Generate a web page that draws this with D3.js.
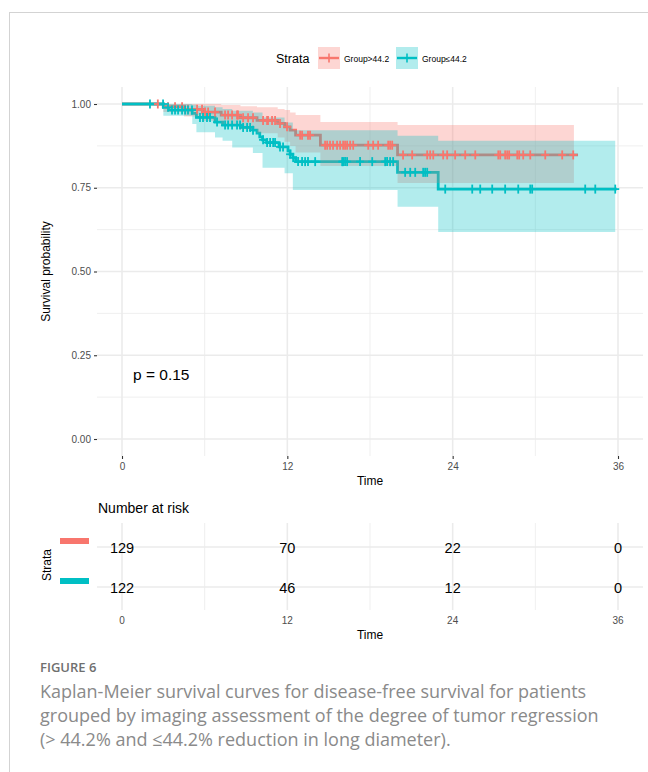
<!DOCTYPE html>
<html>
<head>
<meta charset="utf-8">
<script src="https://cdn.jsdelivr.net/npm/d3@7"></script>
<style>
  body { margin: 0; background: #fff; }
  svg { display: block; }
  .ax { font-family: "Liberation Sans", Arial, sans-serif; }
</style>
</head>
<body>
<div id="chart"></div>
<script>
// strata
var strata = ["Group>44.2", "Group\u226444.2"];
var colors = ["#F8766D", "#00BFC4"];

// survival steps, group > 44.2
var hiTime = [0, 3.0, 4.5, 5.9, 7.2, 8.6, 9.8, 11.3, 11.8, 12.2, 12.6, 14.4, 20.0, 33.1];
var hiSurv = [1, 0.992, 0.984, 0.976, 0.967, 0.959, 0.951, 0.942, 0.932, 0.922, 0.907, 0.877, 0.848, 0.848];
// confidence band, group > 44.2
var hiCiTime = [0, 3.0, 4.5, 5.9, 7.2, 8.6, 9.8, 11.3, 11.8, 12.2, 12.6, 14.4, 20.0, 32.8];
var hiLower = [1, 0.976, 0.963, 0.95, 0.937, 0.925, 0.913, 0.9, 0.887, 0.875, 0.855, 0.815, 0.764, 0.764];
var hiUpper = [1, 1, 1, 1, 0.997, 0.993, 0.99, 0.985, 0.982, 0.975, 0.967, 0.946, 0.937, 0.937];
var hiCensor = [2.6, 3.34, 3.85, 4.36, 4.58, 4.79, 5.45, 5.81, 6.03, 6.25, 6.75, 7.48, 7.7, 7.99, 8.35, 8.42,
  8.79, 9.15, 9.51, 10.24, 10.53, 10.6, 10.89, 11.11, 11.47, 11.98, 12.93, 13.07, 13.5, 13.65, 14.74, 14.89,
  15.1, 15.32, 15.61, 15.83, 16.05, 16.19, 16.34, 16.56, 16.78, 17.87, 18.23, 18.59, 19.32, 19.46, 19.61,
  20.4, 21.06, 22.15, 22.37, 22.59, 23.31, 23.6, 24.18, 24.91, 25.64, 27.31, 27.45, 27.81, 27.96, 28.1,
  28.69, 28.83, 29.12, 29.63, 30.72, 31.95, 32.75];

// survival steps, group <= 44.2
var loTime = [0, 3.0, 3.4, 5.1, 5.4, 6.75, 7.3, 8.6, 9.5, 9.8, 10.0, 10.2, 10.5, 11.4, 12.05, 12.2, 12.4, 12.6, 20.0, 22.95, 35.9];
var loSurv = [1, 0.99, 0.982, 0.972, 0.96, 0.946, 0.937, 0.93, 0.922, 0.913, 0.902, 0.893, 0.885, 0.872, 0.86, 0.85, 0.84, 0.828, 0.796, 0.746, 0.746];
var loCiTime = [0, 3.0, 5.1, 5.4, 6.75, 7.3, 8.0, 9.5, 10.2, 11.8, 12.4, 20.0, 22.95, 35.8];
var loLower = [1, 0.965, 0.94, 0.916, 0.9, 0.89, 0.87, 0.854, 0.81, 0.793, 0.743, 0.693, 0.618, 0.618];
var loUpper = [1, 1, 0.998, 0.995, 0.99, 0.985, 0.98, 0.975, 0.96, 0.945, 0.922, 0.905, 0.89, 0.89];
var loCensor = [2.03, 2.98, 3.34, 3.63, 3.85, 4.07, 4.36, 4.58, 4.79, 5.08, 5.66, 5.88, 6.17, 6.39, 6.9, 7.48,
  7.7, 7.99, 8.35, 8.57, 8.79, 9.08, 9.3, 9.51, 10.24, 10.53, 10.75, 10.97, 11.11, 11.47, 11.69, 12.2, 12.42,
  12.78, 13.07, 13.29, 13.5, 14.02, 15.98, 16.05, 16.19, 16.34, 17.28, 18.16, 19.1, 19.24, 19.46, 19.68,
  20.55, 20.92, 21.28, 21.86, 22.0, 22.15, 23.46, 25.42, 26.0, 26.87, 27.81, 28.76, 29.63, 29.77, 33.62,
  34.35, 35.8];

// number at risk
var riskTimes = [0, 12, 24, 36];
var riskHi = [129, 70, 22, 0];
var riskLo = [122, 46, 12, 0];

var xTicks = [0, 12, 24, 36];
var xMinor = [6, 18, 30];
var yTicks = [0, 0.25, 0.5, 0.75, 1];
var yMinor = [0.125, 0.375, 0.625, 0.875];
var pValue = "p = 0.15";

var caption = [
  "Kaplan-Meier survival curves for disease-free survival for patients",
  "grouped by imaging assessment of the degree of tumor regression",
  "(> 44.2% and \u226444.2% reduction in long diameter)."
];

var W = 648, H = 772;
var svg = d3.select("#chart").append("svg").attr("width", W).attr("height", H);

// figure frame
svg.append("rect").attr("x", 9.5).attr("y", 12.5).attr("width", 700).attr("height", 800)
  .attr("fill", "none").attr("stroke", "#d3d3d3").attr("stroke-width", 1);

var x = d3.scaleLinear().domain([0, 36]).range([122, 618]);
var y = d3.scaleLinear().domain([0, 1]).range([439, 104]);
var pLeft = 97, pRight = 643, pTop = 87, pBottom = 456;

var g = svg.append("g").attr("class", "ax");

// grid
g.selectAll(".vmin").data(xMinor).enter().append("line")
  .attr("x1", d => x(d)).attr("x2", d => x(d)).attr("y1", pTop).attr("y2", pBottom)
  .attr("stroke", "#ebebeb").attr("stroke-width", 0.8);
g.selectAll(".hmin").data(yMinor).enter().append("line")
  .attr("x1", pLeft).attr("x2", pRight).attr("y1", d => y(d)).attr("y2", d => y(d))
  .attr("stroke", "#ebebeb").attr("stroke-width", 0.8);
g.selectAll(".vmaj").data(xTicks).enter().append("line")
  .attr("x1", d => x(d)).attr("x2", d => x(d)).attr("y1", pTop).attr("y2", pBottom)
  .attr("stroke", "#ebebeb").attr("stroke-width", 1.6);
g.selectAll(".hmaj").data(yTicks).enter().append("line")
  .attr("x1", pLeft).attr("x2", pRight).attr("y1", d => y(d)).attr("y2", d => y(d))
  .attr("stroke", "#ebebeb").attr("stroke-width", 1.6);

// axes
var yAxis = d3.axisLeft(y).tickValues(yTicks).tickFormat(d3.format(".2f")).tickSize(3).tickPadding(3);
var ya = g.append("g").attr("transform", "translate(" + pLeft + ",0)").call(yAxis);
ya.select(".domain").remove();
ya.selectAll("line").attr("stroke", "#333").attr("stroke-width", 1.1);
ya.selectAll("text").attr("fill", "#4d4d4d").style("font-size", "10px");

var xAxis = d3.axisBottom(x).tickValues(xTicks).tickSize(3).tickPadding(4);
var xa = g.append("g").attr("transform", "translate(0," + pBottom + ")").call(xAxis);
xa.select(".domain").remove();
xa.selectAll("line").attr("stroke", "#333").attr("stroke-width", 1.1);
xa.selectAll("text").attr("fill", "#4d4d4d").style("font-size", "10px");

g.append("text").attr("x", (pLeft + pRight) / 2).attr("y", 485).attr("text-anchor", "middle")
  .style("font-size", "12px").text("Time");
g.append("text").attr("transform", "translate(50," + ((pTop + pBottom) / 2) + ") rotate(-90)")
  .attr("text-anchor", "middle").style("font-size", "12px").text("Survival probability");

// curves
function stepLine(times, vals) {
  return d3.line().curve(d3.curveStepAfter).x((d, i) => x(times[i])).y(d => y(d))(vals);
}
function band(times, lo, up) {
  return d3.area().curve(d3.curveStepAfter).x((d, i) => x(times[i]))
    .y0((d, i) => y(lo[i])).y1((d, i) => y(up[i]))(times);
}
function survAt(times, vals, t) {
  var i = d3.bisectRight(times, t) - 1;
  return vals[Math.max(0, i)];
}

var groups = [
  { time: hiTime, surv: hiSurv, ciTime: hiCiTime, lower: hiLower, upper: hiUpper, censor: hiCensor },
  { time: loTime, surv: loSurv, ciTime: loCiTime, lower: loLower, upper: loUpper, censor: loCensor }
];

groups.forEach(function (gr, k) {
  g.append("path").attr("d", stepLine(gr.time, gr.surv))
    .attr("fill", "none").attr("stroke", colors[k]).attr("stroke-width", 2.8);
});
groups.forEach(function (gr, k) {
  g.append("path").attr("d", band(gr.ciTime, gr.lower, gr.upper))
    .attr("fill", colors[k]).attr("fill-opacity", 0.3);
});
groups.forEach(function (gr, k) {
  var c = g.append("g").attr("stroke", colors[k]).attr("stroke-width", 1.8);
  gr.censor.forEach(function (t) {
    var cx = x(t), cy = y(survAt(gr.time, gr.surv, t));
    c.append("line").attr("x1", cx).attr("x2", cx).attr("y1", cy - 4.5).attr("y2", cy + 4.5);
    c.append("line").attr("x1", cx - 4).attr("x2", cx + 4).attr("y1", cy).attr("y2", cy);
  });
});

g.append("text").attr("x", 133).attr("y", 380).style("font-size", "15.5px").text(pValue);

// legend
g.append("text").attr("x", 276).attr("y", 63).style("font-size", "12.5px").text("Strata");
var legX = [318, 396];
strata.forEach(function (s, k) {
  var lg = g.append("g").attr("transform", "translate(" + legX[k] + ",47)");
  lg.append("rect").attr("width", 22).attr("height", 22).attr("fill", colors[k]).attr("fill-opacity", 0.3);
  lg.append("line").attr("x1", 1).attr("x2", 21).attr("y1", 11).attr("y2", 11)
    .attr("stroke", colors[k]).attr("stroke-width", 2.4);
  lg.append("line").attr("x1", 11).attr("x2", 11).attr("y1", 6.5).attr("y2", 15.5)
    .attr("stroke", colors[k]).attr("stroke-width", 1.6);
  lg.append("text").attr("x", 26).attr("y", 14.5).style("font-size", "8.5px").text(s);
});

// risk table
var ry = [547, 587];
var tTop = 523, tBottom = 610;
g.selectAll(".tvmin").data(xMinor).enter().append("line")
  .attr("x1", d => x(d)).attr("x2", d => x(d)).attr("y1", tTop).attr("y2", tBottom)
  .attr("stroke", "#ebebeb").attr("stroke-width", 0.8);
g.selectAll(".tvmaj").data(xTicks).enter().append("line")
  .attr("x1", d => x(d)).attr("x2", d => x(d)).attr("y1", tTop).attr("y2", tBottom)
  .attr("stroke", "#ebebeb").attr("stroke-width", 1.6);
ry.forEach(function (yy) {
  g.append("line").attr("x1", pLeft).attr("x2", pRight).attr("y1", yy).attr("y2", yy)
    .attr("stroke", "#ebebeb").attr("stroke-width", 1.6);
});
g.append("text").attr("x", 98).attr("y", 513).style("font-size", "14px").text("Number at risk");
[riskHi, riskLo].forEach(function (vals, k) {
  g.selectAll(".risk" + k).data(vals).enter().append("text")
    .attr("x", (d, i) => x(riskTimes[i])).attr("y", ry[k] + 5.5)
    .attr("text-anchor", "middle").style("font-size", "14.5px").text(d => d);
  g.append("rect").attr("x", 60).attr("y", ry[k] - 9).attr("width", 29).attr("height", 6)
    .attr("fill", colors[k]);
});
g.append("text").attr("transform", "translate(51,565) rotate(-90)").attr("text-anchor", "middle")
  .style("font-size", "12px").text("Strata");
g.selectAll(".tx").data(xTicks).enter().append("text")
  .attr("x", d => x(d)).attr("y", 624).attr("text-anchor", "middle")
  .attr("fill", "#4d4d4d").style("font-size", "10px").text(d => d);
g.append("text").attr("x", (pLeft + pRight) / 2).attr("y", 639).attr("text-anchor", "middle")
  .style("font-size", "12px").text("Time");

// caption
var cap = svg.append("g").style("font-family", "'Open Sans', Lato, sans-serif");
cap.append("text").attr("x", 40).attr("y", 672).attr("fill", "#6f6f6f")
  .style("font-size", "13px").style("font-weight", 600).text("FIGURE 6");
caption.forEach(function (line, i) {
  cap.append("text").attr("x", 40).attr("y", 698 + i * 24).attr("fill", "#8a8a8a")
    .style("font-size", "18px").text(line);
});
</script>
</body>
</html>
